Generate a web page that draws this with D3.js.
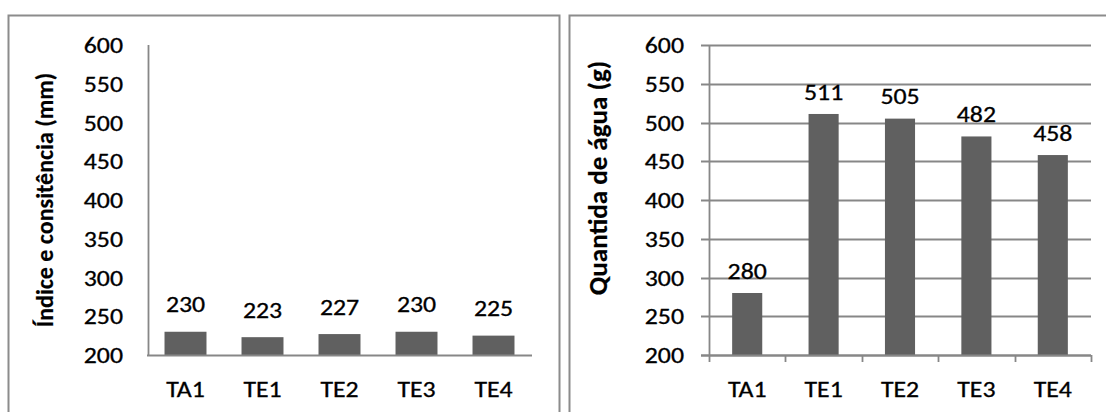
<!DOCTYPE html>
<html>
<head>
<meta charset="utf-8">
<script src="https://cdn.jsdelivr.net/npm/d3@7"></script>
<style>
  body { margin: 0; background: #fff; }
  svg { display: block; }
  text { font-family: Carlito, Calibri, Lato, "Open Sans", sans-serif; fill: #000; stroke: #000; stroke-width: 0.3px; }
</style>
</head>
<body>
<svg id="chart" width="1106" height="412"></svg>
<script>
// Data
const categories = ["TA1", "TE1", "TE2", "TE3", "TE4"];
const consistencyValues = [230, 223, 227, 230, 225];
const waterValues = [280, 511, 505, 482, 458];
const yTickValues = [200, 250, 300, 350, 400, 450, 500, 550, 600];
const consistencyTitle = "Índice e consitência (mm)";
const waterTitle = "Quantida de água (g)";

const svg = d3.select("#chart");
const FONT = 21.5;
const STRETCH = 1.2;
const AXIS_GRAY = "#878787";
const BAR_FILL = "#606060";

// widen glyphs horizontally while keeping their anchor point
function stretch(sel) {
  sel.each(function () {
    const t = d3.select(this);
    const x = +t.attr("x") || 0;
    const y = +t.attr("y") || 0;
    t.attr("x", 0).attr("y", 0)
     .attr("transform", `translate(${x},${y}) scale(${STRETCH},1)`);
  });
}

// panel frames
svg.append("path")
  .attr("d", "M8.5,412 V15.5 H559.5 V412")
  .attr("fill", "none").attr("stroke", "#8c8c8c").attr("stroke-width", 2);
svg.append("path")
  .attr("d", "M569.5,412 V15.5 H1106")
  .attr("fill", "none").attr("stroke", "#8c8c8c").attr("stroke-width", 2);

function drawChart(cfg) {
  const g = svg.append("g");
  const y = d3.scaleLinear().domain([200, 600]).range([355, 45]);
  const x = d3.scaleBand().domain(categories)
    .range([cfg.x0, cfg.x1])
    .paddingInner(cfg.pad).paddingOuter(cfg.pad / 2);

  // horizontal gridlines
  if (cfg.grid) {
    g.append("g").selectAll("line").data(yTickValues).join("line")
      .attr("x1", cfg.yAxisX - 8).attr("x2", cfg.x1)
      .attr("y1", d => Math.round(y(d)) + 0.5).attr("y2", d => Math.round(y(d)) + 0.5)
      .attr("stroke", AXIS_GRAY).attr("stroke-width", 1.8);
  }

  // bars
  g.append("g").selectAll("rect").data(cfg.values).join("rect")
    .attr("x", (d, i) => x(categories[i]))
    .attr("width", x.bandwidth())
    .attr("y", d => y(d))
    .attr("height", d => y(200) - y(d))
    .attr("fill", BAR_FILL);

  // y axis labels
  const yAxis = g.append("g")
    .attr("transform", `translate(${cfg.yAxisX},0)`)
    .call(d3.axisLeft(y).tickValues(yTickValues).tickSize(0).tickPadding(cfg.yPad));
  yAxis.attr("font-family", null);
  yAxis.select(".domain").remove();
  yAxis.selectAll("text").attr("font-size", FONT).attr("dy", "0.35em").call(stretch);

  // y axis line
  g.append("line")
    .attr("x1", cfg.yAxisX + 0.5).attr("x2", cfg.yAxisX + 0.5)
    .attr("y1", y(600)).attr("y2", y(200))
    .attr("stroke", AXIS_GRAY).attr("stroke-width", 1.8);

  // x axis
  const xAxis = g.append("g")
    .attr("transform", `translate(0,${Math.round(y(200)) + 0.5})`)
    .call(d3.axisBottom(x).tickSize(0).tickPadding(34));
  xAxis.attr("font-family", null);
  xAxis.select(".domain").remove();
  xAxis.selectAll("text").attr("font-size", FONT).attr("dy", "0.35em").call(stretch);
  g.append("line")
    .attr("x1", cfg.axisStart).attr("x2", cfg.x1)
    .attr("y1", Math.round(y(200)) + 0.5).attr("y2", Math.round(y(200)) + 0.5)
    .attr("stroke", AXIS_GRAY).attr("stroke-width", 1.8);

  if (cfg.xTicks) {
    const bounds = categories.map(c => x(c) - x.step() * x.paddingInner() / 2)
      .concat([cfg.x1]);
    g.append("g").selectAll("line").data(bounds).join("line")
      .attr("x1", d => Math.round(d) + 0.5).attr("x2", d => Math.round(d) + 0.5)
      .attr("y1", y(200)).attr("y2", y(200) + 7)
      .attr("stroke", AXIS_GRAY).attr("stroke-width", 1.8);
  }

  // value labels
  g.append("g").selectAll("text").data(cfg.values).join("text")
    .attr("x", (d, i) => x(categories[i]) + x.bandwidth() / 2)
    .attr("y", d => y(d) - cfg.labelGap)
    .attr("dy", "0.35em")
    .attr("text-anchor", "middle")
    .attr("font-size", FONT)
    .text(d => d)
    .call(stretch);

  // axis title
  g.append("text")
    .attr("transform", `translate(${cfg.titleX},${cfg.titleY}) rotate(-90)`)
    .attr("text-anchor", "middle")
    .attr("dy", "0.35em")
    .attr("font-size", cfg.titleSize)
    .attr("font-weight", "bold")
    .style("stroke-width", "0.2px")
    .text(cfg.title);
}

drawChart({
  values: consistencyValues, title: consistencyTitle, titleSize: 24,
  x0: 147, x1: 532, pad: 0.455, yAxisX: 148, yPad: 25,
  axisStart: 147, grid: false, xTicks: false, labelGap: 27, titleX: 45, titleY: 200
});

drawChart({
  values: waterValues, title: waterTitle, titleSize: 27,
  x0: 709, x1: 1091, pad: 0.606, yAxisX: 709, yPad: 25,
  axisStart: 701, grid: true, xTicks: true, labelGap: 22, titleX: 598, titleY: 178
});
</script>
</body>
</html>
